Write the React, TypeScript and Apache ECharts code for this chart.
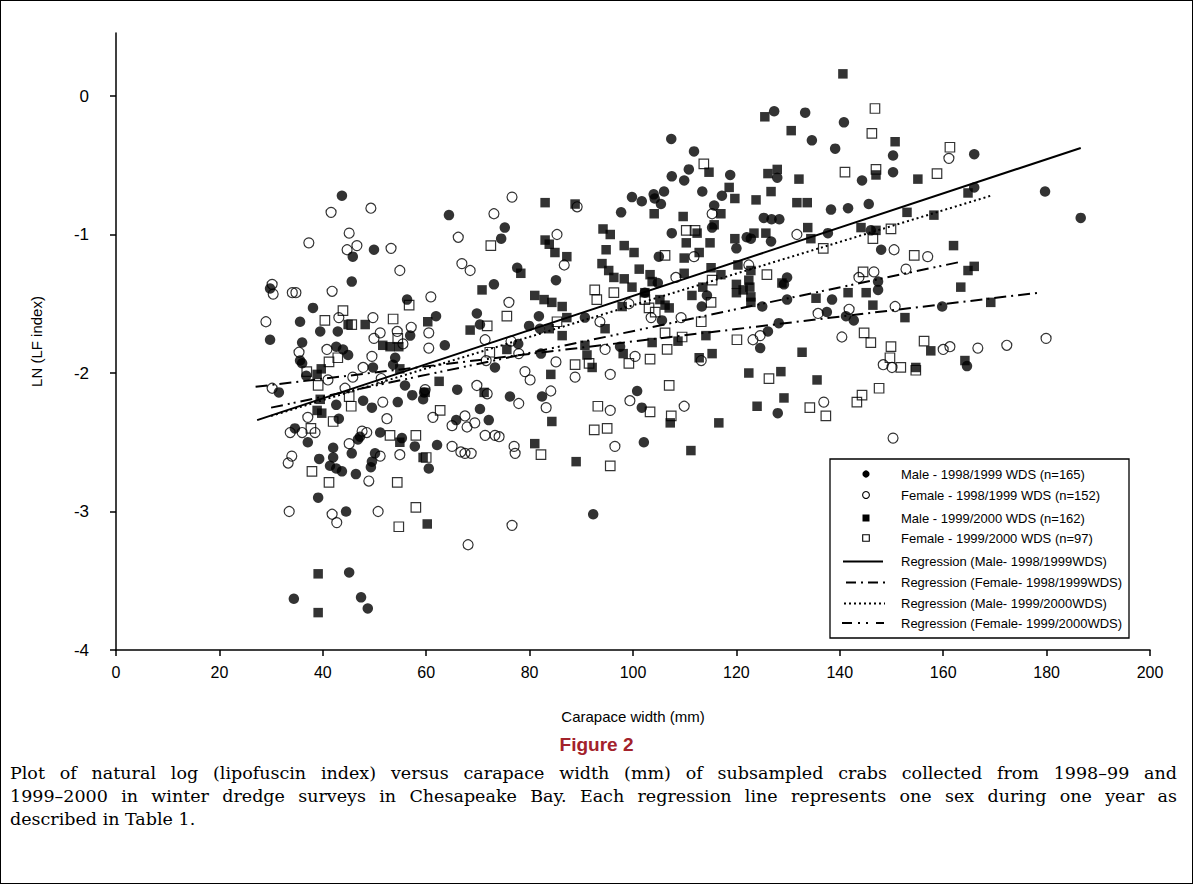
import React, { useEffect, useRef } from "react";
import * as echarts from "echarts";

// Male - 1998/1999 WDS (filled circles)
const maleA: number[][] = [
  [150.3,-0.43],[150.3,-0.55],[166,-0.42],[166,-0.66],[179.7,-0.69],[186.6,-0.88],
  [127.3,-0.11],[133.3,-0.12],[140.8,-0.19],[134.6,-0.32],[139.1,-0.38],[111.8,-0.40],[110.8,-0.53],[109.9,-0.61],
  [118.8,-0.57],[127.9,-0.59],[144.3,-0.61],[113.4,-0.69],[117.2,-0.72],[115.7,-0.79],[138.3,-0.82],[141.6,-0.81],
  [145.6,-0.78],[115.3,-0.95],[137.7,-0.99],[146,-0.97],[125.3,-0.88],[126.8,-0.89],[128.3,-0.89],[122,-1.02],
  [122.8,-1.03],[126.7,-1.05],[120,-1.1],
  [107.4,-0.31],[107.5,-0.58],[99.8,-0.73],[101.7,-0.76],[104,-0.71],[106,-0.69],[104.2,-0.74],[105.4,-0.78],
  [97.7,-0.84],[75.2,-0.95],[74.5,-1.03],[107.5,-0.99],
  [43.7,-0.72],[64.4,-0.86],[49.9,-1.11],
  [45.8,-1.16],[45.6,-1.34],[29.8,-1.39],[56.3,-1.47],[38.1,-1.53],[61.9,-1.59],[35.6,-1.63],[39.5,-1.70],
  [42.9,-1.70],[29.8,-1.76],[36,-1.78],[56.9,-1.73],[63.6,-1.80],[42.6,-1.81],[43.9,-1.83],[44.9,-1.87],
  [35.6,-1.91],[36,-1.93],[54,-1.89],[49.7,-1.96],[53.6,-1.94],[36.8,-2.02],[55.9,-2.09],[31.5,-2.14],
  [57.3,-2.16],[47.8,-2.2],[49.5,-2.25],[54.5,-2.21],[59.4,-2.19],[59.6,-2.14],[66,-2.12],[42.6,-2.23],
  [43.1,-2.33],[65.8,-2.34],[34.6,-2.40],[47.2,-2.46],[51.1,-2.43],[55.3,-2.47],
  [77.6,-1.24],[85.1,-1.33],[73.1,-1.36],[69.8,-1.57],[70.4,-1.65],[81.8,-1.59],[79.9,-1.66],[90.7,-1.60],
  [82,-1.68],[77.8,-1.79],[82.2,-1.86],[73.3,-1.96],[105,-1.16],[104.8,-1.35],[102.3,-1.42],[105.6,-1.62],
  [97.5,-1.81],[76.2,-2.17],[82.4,-2.17],[70.4,-2.26],[72.1,-2.34],[100.8,-2.13],[101.7,-2.25],
  [129.8,-1.31],[129.2,-1.36],[114.3,-1.44],[113.3,-1.52],[129.8,-1.47],[138.5,-1.47],[125,-1.52],[137.5,-1.56],
  [141.2,-1.59],[142.7,-1.62],[128.2,-1.64],[147.4,-1.34],[147.4,-1.40],[126.1,-1.70],[124.6,-1.82],[128,-2.29],
  [148,-1.11],
  [159.8,-1.52],[164.6,-1.95],
  [37.1,-2.50],[42,-2.54],[45.6,-2.58],[39.3,-2.62],[42,-2.61],[41.4,-2.67],[42.6,-2.69],[43.7,-2.71],
  [46.4,-2.73],[50.1,-2.58],[49.5,-2.64],[49.3,-2.68],[57.8,-2.53],[60.5,-2.69],[62.1,-2.52],[39.1,-2.90],
  [44.5,-3.0],[45.1,-3.44],[34.4,-3.63],[47.4,-3.62],[48.7,-3.70],[46.8,-2.48],
  [92.3,-3.02],[102.1,-2.50]
];

// Female - 1998/1999 WDS (open circles)
const femaleA: number[][] = [
  [161.1,-0.45],[115.3,-0.85],[131.7,-1.0],
  [76.6,-0.73],[73.1,-0.85],[85.3,-1.0],[89.2,-0.8],
  [41.6,-0.84],[49.3,-0.81],[45.1,-0.99],[37.3,-1.06],[46.6,-1.08],[44.7,-1.11],[53.2,-1.10],[66.2,-1.02],
  [30.2,-1.36],[30.4,-1.43],[34.1,-1.42],[34.8,-1.42],[41.8,-1.41],[54.9,-1.26],[66.9,-1.21],[60.9,-1.45],
  [29,-1.63],[43.1,-1.6],[49.7,-1.6],[51.1,-1.71],[54.4,-1.70],[57.1,-1.67],[49.9,-1.75],[60.5,-1.71],
  [60.5,-1.82],[35.4,-1.85],[40.8,-1.83],[49.5,-1.88],[47.8,-1.96],[55.5,-1.79],[41,-2.05],[45.8,-2.03],
  [51.3,-2.04],[30.2,-2.11],[44.3,-2.11],[51.6,-2.21],[59.8,-2.12],[61.3,-2.32],[65,-2.38],[37.1,-2.32],
  [52.4,-2.33],[33.7,-2.43],[36,-2.43],[38.5,-2.43],[47.6,-2.42],[48.5,-2.43],
  [68.5,-1.26],[86.7,-1.22],[76,-1.49],[99.2,-1.50],[103.5,-1.60],[93.6,-1.63],[71.4,-1.76],[76.4,-1.77],
  [71.6,-1.91],[77.9,-1.86],[85.1,-1.92],[94.6,-1.83],[100.4,-1.88],[79.1,-1.99],[80.1,-2.05],[88.8,-2.03],
  [95.6,-2.01],[69.8,-2.09],[71.8,-2.15],[84.1,-2.13],[77.9,-2.22],[83.2,-2.25],[99.4,-2.20],[95.6,-2.27],
  [67.5,-2.31],[69.4,-2.36],[67.9,-2.39],[71.4,-2.45],[73.3,-2.45],[74.1,-2.46],
  [111.8,-1.16],[122.4,-1.22],[108.3,-1.31],[143.7,-1.31],[146.6,-1.27],[109.3,-1.60],[135.8,-1.57],[141.8,-1.54],
  [124.6,-1.73],[123.2,-1.76],[140.4,-1.74],[113.2,-1.91],[109.9,-2.24],[136.9,-2.21],[148.4,-1.94],
  [157,-1.16],[152.8,-1.25],[150.7,-1.52],[160,-1.83],[161.3,-1.81],[166.7,-1.82],[172.3,-1.80],[179.9,-1.75],
  [150.1,-1.96],[150.3,-2.47],[150.5,-1.11],
  [33.3,-2.65],[34,-2.60],[45.1,-2.51],[51.1,-2.60],[54.9,-2.59],[48.9,-2.78],[33.5,-3.0],[41.8,-3.02],
  [42.7,-3.08],[50.7,-3.0],[65,-2.53],[66.7,-2.57],
  [67.5,-2.58],[68.7,-2.58],[77,-2.53],[77.2,-2.58],[96.5,-2.53],[76.6,-3.10],[68.1,-3.24]
];

// Male - 1999/2000 WDS (filled squares)
const maleB: number[][] = [
  [150.7,-0.33],[155.1,-0.60],[164.8,-0.70],[153,-0.84],[158.2,-0.86],[162,-1.08],
  [140.6,0.16],[125.5,-0.15],[130.6,-0.25],[114.7,-0.55],[126.1,-0.56],[127.9,-0.53],[132.1,-0.60],[118.6,-0.66],
  [119.7,-0.74],[126.7,-0.69],[123.8,-0.75],[131.7,-0.77],[133.7,-0.77],[109.7,-0.87],[117,-0.85],[115.7,-0.93],
  [133.8,-0.95],[144.1,-0.95],[112.4,-0.99],[123.4,-0.99],[125.7,-0.99],[119.7,-1.03],[114.9,-1.06],[134.4,-1.03],
  [110.3,-1.06],[147,-0.97],[147,-0.57],
  [83,-0.77],[88.8,-0.78],[104.1,-0.85],[94.2,-0.96],[95.6,-1.0],[98.3,-1.08],[83,-1.04],[83.8,-1.07],[94.8,-1.11],
  [44.9,-1.65],[48.2,-1.65],[60.3,-1.63],[51.6,-1.80],[53,-1.81],[54.7,-1.81],[39.7,-1.97],[38.9,-2.01],
  [54.9,-1.97],[62.5,-2.06],[39.5,-2.19],[38.9,-2.27],[39.8,-2.29],[59.8,-2.14],
  [84.9,-1.13],[87.2,-1.16],[100.2,-1.13],[94,-1.21],[95.3,-1.26],[96.3,-1.31],[98.3,-1.32],[101.2,-1.25],
  [103.3,-1.29],[103.7,-1.34],[99.8,-1.38],[70.8,-1.40],[78.3,-1.28],[81,-1.44],[82.8,-1.47],[84.3,-1.49],
  [86.3,-1.52],[102.3,-1.42],[105.2,-1.47],[106.2,-1.51],[107,-1.53],[97.9,-1.52],[87.2,-1.60],[83.8,-1.68],
  [86.3,-1.73],[94.6,-1.68],[68.5,-1.69],[75.6,-1.83],[90.7,-1.80],[91.1,-1.87],[92.1,-1.96],[98.1,-1.86],
  [103.7,-1.78],[84.1,-2.01],[71.2,-2.14],[84.3,-2.35],[107.2,-2.36],
  [109.9,-1.17],[112.8,-1.13],[115.1,-1.24],[109.9,-1.28],[117,-1.29],[120.3,-1.22],[122.8,-1.26],[122.4,-1.33],
  [113.5,-1.38],[111.4,-1.44],[120,-1.36],[120,-1.42],[121.3,-1.40],[122.6,-1.38],[122.8,-1.45],[122.8,-1.49],
  [128.8,-1.35],[135.4,-1.46],[141.6,-1.42],[145.1,-1.42],[146.4,-1.51],[108.7,-1.77],[114.1,-1.73],[115.3,-1.86],
  [112.8,-1.89],[132.7,-1.85],[122.4,-2.0],[128.6,-1.99],[135.6,-2.05],[129.2,-2.18],[124,-2.24],[116.6,-2.36],
  [164.8,-1.26],[166,-1.23],[163.4,-1.38],[169.2,-1.49],[152.6,-1.60],[157.6,-1.84],[154.7,-1.96],[164.2,-1.91],
  [54.9,-2.50],[59.4,-2.61],[60.2,-3.09],[39.1,-3.45],[39.1,-3.73],
  [81,-2.51],[89,-2.64],[111.2,-2.56]
];

// Female - 1999/2000 WDS (open squares)
const femaleB: number[][] = [
  [161.3,-0.37],[158.8,-0.56],[149.9,-0.96],
  [113.7,-0.49],[146.8,-0.09],[146.2,-0.27],[141,-0.55],[147,-0.53],[110.3,-0.97],[112,-0.97],[146.4,-1.03],[136.8,-1.1],
  [72.5,-1.08],
  [43.9,-1.55],[56.7,-1.51],[40.4,-1.62],[45.6,-1.65],[53.6,-1.61],[54.5,-1.75],[42.9,-1.89],[41.2,-1.92],
  [36.9,-1.99],[39.1,-2.09],[45.1,-2.17],[45.5,-2.24],[42,-2.35],[37.7,-2.40],[62.7,-2.27],[53,-2.45],[58,-2.45],
  [92.6,-1.40],[96.3,-1.42],[93,-1.47],[75.6,-1.59],[71.8,-1.66],[85.3,-1.63],[102.3,-1.47],[103.1,-1.53],
  [104.3,-1.56],[106.2,-1.71],[106.6,-1.83],[72.3,-1.85],[88.8,-1.94],[91.5,-1.93],[99.2,-1.93],[103.3,-1.90],
  [107,-2.09],[93.2,-2.24],[103.3,-2.28],[92.5,-2.41],[95,-2.40],[107.4,-2.31],[106.2,-1.15],
  [125.9,-1.29],[115.3,-1.33],[115.1,-1.49],[144.5,-1.27],[113.2,-1.63],[109.5,-1.74],[120.1,-1.76],[144.7,-1.71],
  [146,-1.78],[126.3,-2.04],[134.2,-2.25],[137.3,-2.31],[144.3,-2.16],[143.3,-2.21],[147.6,-2.11],
  [154.4,-1.15],[156.3,-1.77],[149.9,-1.81],[149.7,-1.89],[151.8,-1.96],[154.7,-1.98],
  [37.9,-2.71],[41.2,-2.79],[54.4,-2.79],[58,-2.97],[54.7,-3.11],[60,-2.61],
  [82.2,-2.59],[95.6,-2.67]
];

// Regression line end points
const regMaleA: number[][] = [[27.3,-2.34],[186.6,-0.375]];
const regFemaleA: number[][] = [[27,-2.10],[178.5,-1.42]];
const regMaleB: number[][] = [[30,-2.31],[169.2,-0.72]];
const regFemaleB: number[][] = [[30,-2.25],[163,-1.2]];

const yTickValues = [-4, -3, -2, -1, 0];

const legendLabels = [
  "Male - 1998/1999 WDS (n=165)",
  "Female - 1998/1999 WDS (n=152)",
  "Male - 1999/2000 WDS (n=162)",
  "Female - 1999/2000 WDS (n=97)",
  "Regression (Male- 1998/1999WDS)",
  "Regression (Female- 1998/1999WDS)",
  "Regression (Male- 1999/2000WDS)",
  "Regression (Female- 1999/2000WDS)",
];

const captionLines = [
  "Plot of natural log (lipofuscin index) versus carapace width (mm) of subsampled crabs collected from 1998–99 and",
  "1999–2000 in winter dredge surveys in Chesapeake Bay. Each regression line represents one sex during one year as",
  "described in Table 1.",
];

const SANS = "'Liberation Sans', Arial, Helvetica, sans-serif";

const dashFA = [12, 5, 2, 5];
const dashFB = [12, 5, 2, 4, 2, 5];
const dashMB = [2, 3];

export default function App() {
  const ref = useRef<HTMLDivElement>(null);

  useEffect(() => {
    document.body.style.margin = "0";
    if (!ref.current) return;
    const chart = echarts.init(ref.current, null, { renderer: "svg" });

    const openStyle = { color: "rgba(255,255,255,0)", borderColor: "#000", borderWidth: 1.2 };
    const lineSeries = (data: number[][], type: any, name: string) => ({
      name,
      type: "line",
      data,
      symbol: "none",
      silent: true,
      z: 5,
      lineStyle: { color: "#000", width: 2, type },
    });

    const lx = 866;
    const rowY = [474, 495, 518, 538, 561.5, 582.5, 603.5, 623];
    const legendItems: any[] = [
      { type: "rect", shape: { x: 830, y: 459, width: 299, height: 179 }, style: { fill: "#fff", stroke: "#000", lineWidth: 1.3 }, z: 100 },
      { type: "circle", shape: { cx: lx, cy: rowY[0], r: 3.6 }, style: { fill: "#000" }, z: 101 },
      { type: "circle", shape: { cx: lx, cy: rowY[1], r: 3.4 }, style: { fill: "#fff", stroke: "#000", lineWidth: 1.1 }, z: 101 },
      { type: "rect", shape: { x: lx - 3.5, y: rowY[2] - 3.5, width: 7, height: 7 }, style: { fill: "#000" }, z: 101 },
      { type: "rect", shape: { x: lx - 3.3, y: rowY[3] - 3.3, width: 6.6, height: 6.6 }, style: { fill: "#fff", stroke: "#000", lineWidth: 1.1 }, z: 101 },
      { type: "line", shape: { x1: 843, y1: rowY[4], x2: 883, y2: rowY[4] }, style: { stroke: "#000", lineWidth: 2 }, z: 101 },
      { type: "line", shape: { x1: 846, y1: rowY[5], x2: 888, y2: rowY[5] }, style: { stroke: "#000", lineWidth: 2, lineDash: [10, 5, 2, 5] }, z: 101 },
      { type: "line", shape: { x1: 844, y1: rowY[6], x2: 885, y2: rowY[6] }, style: { stroke: "#000", lineWidth: 2, lineDash: [2, 3] }, z: 101 },
      { type: "line", shape: { x1: 842, y1: rowY[7], x2: 884, y2: rowY[7] }, style: { stroke: "#000", lineWidth: 2, lineDash: [10, 6, 2, 6, 2, 8] }, z: 101 },
    ];
    legendLabels.forEach((t, i) => {
      legendItems.push({
        type: "text",
        x: 901,
        y: rowY[i],
        z: 101,
        style: { text: t, fill: "#000", font: `13px ${SANS}`, textVerticalAlign: "middle", verticalAlign: "middle" },
      });
    });

    chart.setOption({
      animation: false,
      backgroundColor: "#fff",
      grid: { left: 116, top: 33, width: 1034, height: 617, containLabel: false },
      xAxis: {
        type: "value",
        min: 0,
        max: 200,
        interval: 20,
        name: "Carapace width (mm)",
        nameLocation: "middle",
        nameGap: 59,
        nameTextStyle: { color: "#000", fontSize: 15, fontFamily: SANS },
        axisLine: { onZero: false, lineStyle: { color: "#000", width: 1.5 } },
        axisTick: { show: true, inside: false, length: 6, lineStyle: { color: "#000", width: 1.5 } },
        axisLabel: { color: "#000", fontSize: 16, fontFamily: SANS, margin: 14 },
        splitLine: { show: false },
      },
      yAxis: {
        type: "value",
        min: -4,
        max: 0.455,
        name: "LN (LF index)",
        nameLocation: "middle",
        nameGap: 72,
        nameRotate: 90,
        nameTextStyle: { color: "#000", fontSize: 15, fontFamily: SANS },
        axisLine: { onZero: false, lineStyle: { color: "#000", width: 1.5 } },
        axisTick: { show: true, inside: false, length: 6, customValues: yTickValues, lineStyle: { color: "#000", width: 1.5 } },
        axisLabel: { color: "#000", fontSize: 17, fontFamily: SANS, margin: 27, customValues: yTickValues },
        splitLine: { show: false },
      },
      graphic: legendItems,
      series: [
        { name: legendLabels[0], type: "scatter", data: maleA, symbol: "circle", symbolSize: 10.5, itemStyle: { color: "#000" }, z: 3 },
        { name: legendLabels[1], type: "scatter", data: femaleA, symbol: "circle", symbolSize: 10, itemStyle: openStyle, z: 3 },
        { name: legendLabels[2], type: "scatter", data: maleB, symbol: "rect", symbolSize: 9.5, itemStyle: { color: "#000" }, z: 3 },
        { name: legendLabels[3], type: "scatter", data: femaleB, symbol: "rect", symbolSize: 9.5, itemStyle: openStyle, z: 3 },
        lineSeries(regMaleA, "solid", legendLabels[4]),
        lineSeries(regFemaleA, dashFA, legendLabels[5]),
        lineSeries(regMaleB, dashMB, legendLabels[6]),
        lineSeries(regFemaleB, dashFB, legendLabels[7]),
      ],
    });

    return () => chart.dispose();
  }, []);

  return (
    <div style={{ position: "relative", width: 1193, height: 884, background: "#fff", overflow: "hidden" }}>
      <div ref={ref} style={{ position: "absolute", left: 0, top: 0, width: 1193, height: 884 }} />
      <div
        style={{
          position: "absolute", left: 0, top: 0, width: 1193, height: 884,
          boxSizing: "border-box", border: "1.5px solid #000", pointerEvents: "none",
        }}
      />
      <div
        style={{
          position: "absolute", left: 0, top: 734, width: 1193, textAlign: "center",
          fontFamily: SANS, fontWeight: "bold", fontSize: 19, color: "#a3222b",
        }}
      >
        Figure 2
      </div>
      <div
        style={{
          position: "absolute", left: 10, top: 762, width: 1167,
          fontFamily: "'DejaVu Serif', 'Liberation Serif', serif", fontSize: 17.5, lineHeight: "23px", color: "#000",
        }}
      >
        {captionLines.map((t, i) => (
          <div key={i} style={{ textAlign: i < 2 ? "justify" : "left", textAlignLast: i < 2 ? "justify" : "left", whiteSpace: "nowrap" } as any}>
            {t}
          </div>
        ))}
      </div>
    </div>
  );
}
